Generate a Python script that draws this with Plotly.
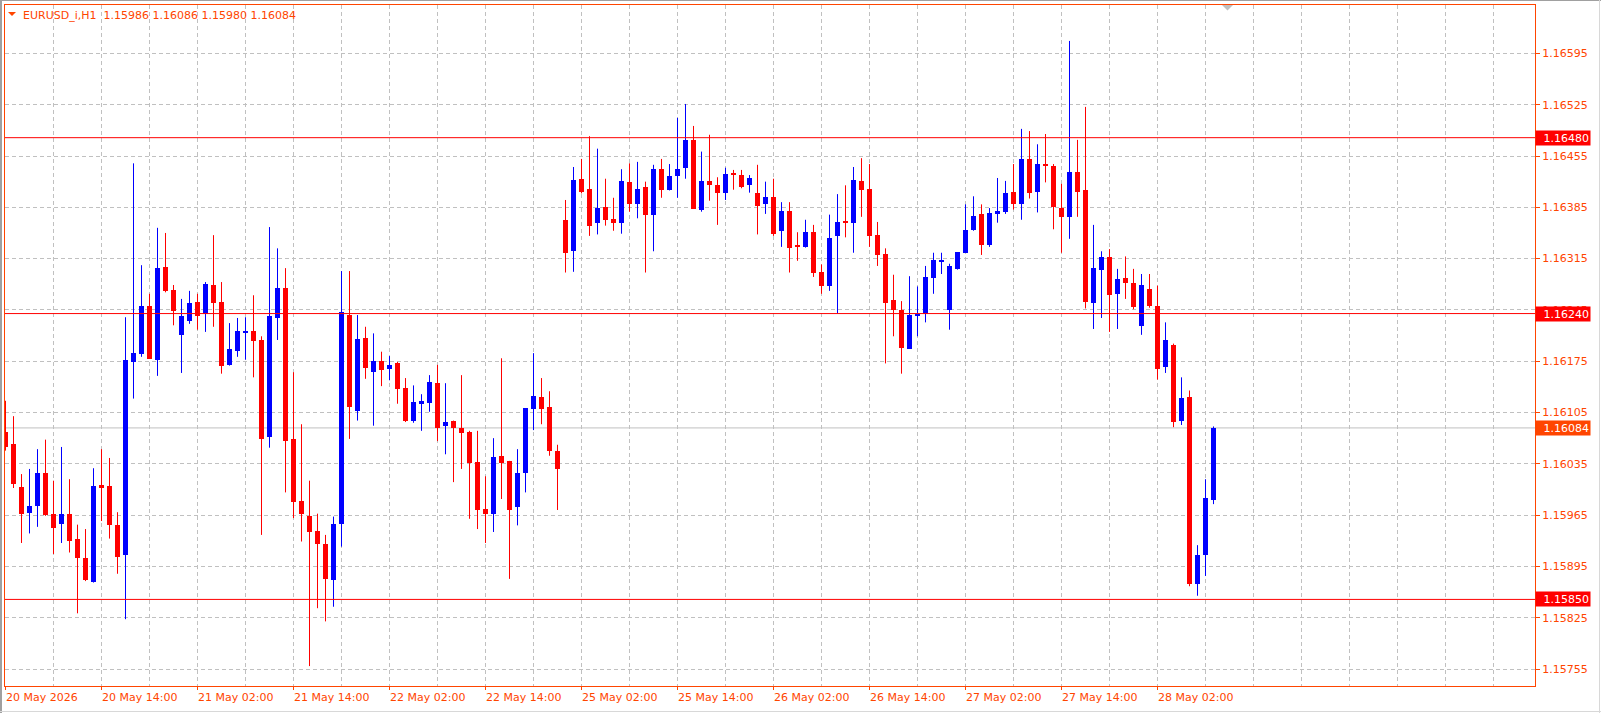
import numpy as np
import pandas as pd
import plotly.graph_objects as go

# ---------------- data ----------------
symbol = "EURUSD_i,H1"
start_time = "2026-05-20 02:00"

opens = [1.16078, 1.16062, 1.16003, 1.15968, 1.15978, 1.16022, 1.15967, 1.15953, 1.15967, 1.15932,
         1.15906, 1.15874, 1.16006, 1.16005, 1.15952, 1.15911, 1.16174, 1.16185, 1.16250, 1.16177,
         1.16304, 1.16272, 1.16211, 1.16230, 1.16256, 1.16240, 1.16279, 1.16256, 1.16170, 1.16189,
         1.16214, 1.16216, 1.16204, 1.16071, 1.16234, 1.16275, 1.16069, 1.15984, 1.15964, 1.15943,
         1.15925, 1.15877, 1.15953, 1.16238, 1.16107, 1.16207, 1.16160, 1.16175, 1.16165, 1.16172,
         1.16138, 1.16093, 1.16117, 1.16118, 1.16145, 1.16087, 1.16094, 1.16084, 1.16079, 1.16037,
         1.15973, 1.15966, 1.16046, 1.16039, 1.15976, 1.16022, 1.16110, 1.16126, 1.16112, 1.16052,
         1.16368, 1.16325, 1.16424, 1.16410, 1.16363, 1.16385, 1.16369, 1.16364, 1.16420, 1.16389,
         1.16413, 1.16374, 1.16437, 1.16408, 1.16428, 1.16439, 1.16477, 1.16382, 1.16421, 1.16416,
         1.16405, 1.16432, 1.16429, 1.16415, 1.16405, 1.16389, 1.16399, 1.16352, 1.16380, 1.16334,
         1.16331, 1.16351, 1.16297, 1.16278, 1.16346, 1.16366, 1.16364, 1.16421, 1.16410, 1.16347,
         1.16321, 1.16259, 1.16245, 1.16192, 1.16237, 1.16239, 1.16288, 1.16311, 1.16245, 1.16301,
         1.16323, 1.16354, 1.16376, 1.16333, 1.16376, 1.16378, 1.16406, 1.16390, 1.16451, 1.16406,
         1.16444, 1.16441, 1.16384, 1.16372, 1.16433, 1.16409, 1.16254, 1.16300, 1.16317, 1.16267,
         1.16289, 1.16282, 1.16223, 1.16274, 1.16250, 1.16167, 1.16197, 1.16094, 1.16126, 1.15871,
         1.15911, 1.15986]
highs = [1.16121, 1.16100, 1.16021, 1.16028, 1.16055, 1.16068, 1.16012, 1.16058, 1.16014, 1.15952,
         1.15946, 1.16029, 1.16055, 1.16043, 1.15969, 1.16235, 1.16445, 1.16306, 1.16267, 1.16357,
         1.16350, 1.16279, 1.16260, 1.16271, 1.16267, 1.16283, 1.16347, 1.16283, 1.16227, 1.16234,
         1.16235, 1.16265, 1.16209, 1.16358, 1.16329, 1.16302, 1.16160, 1.16089, 1.16012, 1.15967,
         1.15938, 1.15963, 1.16298, 1.16298, 1.16238, 1.16222, 1.16213, 1.16188, 1.16182, 1.16174,
         1.16152, 1.16142, 1.16130, 1.16156, 1.16170, 1.16145, 1.16094, 1.16156, 1.16080, 1.16080,
         1.16018, 1.16070, 1.16179, 1.16039, 1.16055, 1.16111, 1.16186, 1.16152, 1.16134, 1.16061,
         1.16395, 1.16440, 1.16451, 1.16482, 1.16465, 1.16424, 1.16398, 1.16437, 1.16445, 1.16447,
         1.16420, 1.16443, 1.16451, 1.16444, 1.16507, 1.16526, 1.16496, 1.16461, 1.16484, 1.16426,
         1.16439, 1.16436, 1.16436, 1.16429, 1.16443, 1.16420, 1.16424, 1.16392, 1.16392, 1.16351,
         1.16368, 1.16361, 1.16307, 1.16375, 1.16403, 1.16415, 1.16440, 1.16452, 1.16444, 1.16365,
         1.16329, 1.16293, 1.16257, 1.16291, 1.16277, 1.16305, 1.16323, 1.16323, 1.16308, 1.16324,
         1.16389, 1.16400, 1.16389, 1.16384, 1.16425, 1.16421, 1.16444, 1.16492, 1.16489, 1.16471,
         1.16485, 1.16444, 1.16417, 1.16612, 1.16477, 1.16522, 1.16361, 1.16325, 1.16328, 1.16301,
         1.16318, 1.16301, 1.16294, 1.16294, 1.16278, 1.16228, 1.16199, 1.16153, 1.16135, 1.15924,
         1.16014, 1.16086]
lows = [1.16053, 1.16002, 1.15927, 1.15940, 1.15949, 1.15964, 1.15912, 1.15927, 1.15914, 1.15831,
        1.15875, 1.15873, 1.15957, 1.15933, 1.15885, 1.15823, 1.16124, 1.16181, 1.16178, 1.16155,
        1.16269, 1.16224, 1.16159, 1.16226, 1.16218, 1.16215, 1.16222, 1.16158, 1.16169, 1.16181,
        1.16177, 1.16153, 1.15938, 1.16057, 1.16204, 1.15996, 1.15961, 1.15929, 1.15759, 1.15838,
        1.15820, 1.15840, 1.15922, 1.16069, 1.16094, 1.16151, 1.16087, 1.16141, 1.16149, 1.16117,
        1.16092, 1.16091, 1.16080, 1.16106, 1.16066, 1.16048, 1.16010, 1.16028, 1.15960, 1.15946,
        1.15927, 1.15942, 1.15987, 1.15878, 1.15951, 1.15996, 1.16081, 1.16089, 1.16046, 1.15972,
        1.16296, 1.16297, 1.16404, 1.16346, 1.16348, 1.16360, 1.16353, 1.16349, 1.16379, 1.16370,
        1.16296, 1.16325, 1.16398, 1.16408, 1.16398, 1.16424, 1.16383, 1.16379, 1.16394, 1.16361,
        1.16395, 1.16409, 1.16411, 1.16405, 1.16348, 1.16376, 1.16346, 1.16331, 1.16296, 1.16312,
        1.16330, 1.16290, 1.16267, 1.16271, 1.16240, 1.16344, 1.16323, 1.16372, 1.16331, 1.16305,
        1.16172, 1.16209, 1.16158, 1.16192, 1.16209, 1.16228, 1.16267, 1.16294, 1.16218, 1.16300,
        1.16323, 1.16353, 1.16320, 1.16331, 1.16364, 1.16376, 1.16382, 1.16368, 1.16397, 1.16378,
        1.16419, 1.16355, 1.16323, 1.16342, 1.16372, 1.16247, 1.16219, 1.16234, 1.16215, 1.16219,
        1.16260, 1.16246, 1.16211, 1.16248, 1.16150, 1.16159, 1.16085, 1.16088, 1.15868, 1.15855,
        1.15882, 1.15980]
closes = [1.16058, 1.16007, 1.15966, 1.15977, 1.16022, 1.15965, 1.15948, 1.15967, 1.15930, 1.15906,
          1.15876, 1.16005, 1.16002, 1.15952, 1.15908, 1.16177, 1.16186, 1.16250, 1.16178, 1.16302,
          1.16271, 1.16244, 1.16237, 1.16254, 1.16237, 1.16280, 1.16254, 1.16169, 1.16192, 1.16216,
          1.16216, 1.16202, 1.16069, 1.16237, 1.16275, 1.16066, 1.15983, 1.15967, 1.15942, 1.15925,
          1.15878, 1.15953, 1.16242, 1.16112, 1.16205, 1.16166, 1.16175, 1.16163, 1.16170, 1.16137,
          1.16093, 1.16119, 1.16121, 1.16147, 1.16084, 1.16092, 1.16084, 1.16077, 1.16036, 1.15972,
          1.15966, 1.16044, 1.16036, 1.15972, 1.16022, 1.16111, 1.16128, 1.16110, 1.16053, 1.16028,
          1.16323, 1.16422, 1.16406, 1.16360, 1.16384, 1.16368, 1.16364, 1.16421, 1.16390, 1.16410,
          1.16375, 1.16437, 1.16409, 1.16428, 1.16437, 1.16477, 1.16383, 1.16421, 1.16416, 1.16404,
          1.16431, 1.16430, 1.16413, 1.16425, 1.16387, 1.16399, 1.16349, 1.16380, 1.16330, 1.16331,
          1.16351, 1.16295, 1.16278, 1.16343, 1.16365, 1.16364, 1.16422, 1.16409, 1.16346, 1.16320,
          1.16255, 1.16245, 1.16193, 1.16238, 1.16240, 1.16290, 1.16313, 1.16313, 1.16305, 1.16324,
          1.16354, 1.16373, 1.16333, 1.16377, 1.16380, 1.16405, 1.16389, 1.16451, 1.16405, 1.16444,
          1.16442, 1.16386, 1.16372, 1.16433, 1.16406, 1.16256, 1.16302, 1.16317, 1.16266, 1.16287,
          1.16282, 1.16249, 1.16279, 1.16250, 1.16165, 1.16204, 1.16092, 1.16125, 1.15871, 1.15911,
          1.15988, 1.16084]

level_lines = [1.16480, 1.16240, 1.15850]
price_ticks = [1.15755, 1.15825, 1.15895, 1.15965, 1.16035, 1.16105, 1.16175,
               1.16245, 1.16315, 1.16385, 1.16455, 1.16525, 1.16595]
date_tick_times = ["2026-05-20 02:00", "2026-05-20 14:00", "2026-05-21 02:00", "2026-05-21 14:00",
                   "2026-05-22 02:00", "2026-05-22 14:00", "2026-05-25 02:00", "2026-05-25 14:00",
                   "2026-05-26 02:00", "2026-05-26 14:00", "2026-05-27 02:00", "2026-05-27 14:00",
                   "2026-05-28 02:00"]
date_tick_labels = ["20 May 2026", "20 May 14:00", "21 May 02:00", "21 May 14:00",
                    "22 May 02:00", "22 May 14:00", "25 May 02:00", "25 May 14:00",
                    "26 May 02:00", "26 May 14:00", "27 May 02:00", "27 May 14:00",
                    "28 May 02:00"]

# ---------------- style / geometry ----------------
W, H = 1601, 713
ML, MR, MT, MB = 5, 66, 5, 27
PW, PH = W - ML - MR, H - MT - MB
BAR_PX = 8
X0 = -0.0625
Y_TOP, Y_BOT = 1.1666103, 1.1573185
FONT = "DejaVu Sans"
ORANGE = "#FF4500"
BULL, BEAR = "#0000FF", "#FF0000"
GRID = "#C0C0C0"

def px(xp):
    return (xp - ML) / PW

def py(yp):
    return (H - MB - yp) / PH

o = np.array(opens); h = np.array(highs); l = np.array(lows); c = np.array(closes)
n = len(o)
times = pd.date_range(start_time, periods=24 * 14, freq="h")
times = times[times.dayofweek < 5][:n]
idx = np.arange(n)
time_pos = {t.strftime("%Y-%m-%d %H:%M"): i for i, t in enumerate(times)}

price_per_px = (Y_TOP - Y_BOT) / PH
bull = c >= o

fig = go.Figure()

# wicks
for mask, col in ((bull, BULL), (~bull, BEAR)):
    xs, ys = [], []
    for i in idx[mask]:
        xs += [i, i, None]
        ys += [l[i], h[i], None]
    fig.add_trace(go.Scatter(x=xs, y=ys, mode="lines", line=dict(color=col, width=1),
                             hoverinfo="skip", showlegend=False))

# bodies
for mask, col in ((bull, BULL), (~bull, BEAR)):
    base = np.minimum(o, c)[mask]
    hgt = np.maximum(np.abs(c - o)[mask], price_per_px)
    fig.add_trace(go.Bar(x=idx[mask], y=hgt, base=base, width=5 / BAR_PX,
                         marker=dict(color=col, line=dict(width=0)),
                         hoverinfo="skip", showlegend=False))

x_right = X0 + PW / BAR_PX

shapes = []
# level lines
for lv in level_lines:
    shapes.append(dict(type="line", xref="paper", yref="y", x0=0, x1=1, y0=lv, y1=lv,
                       line=dict(color="#FF0000", width=1), layer="above"))
# bid line
bid = closes[-1]
shapes.append(dict(type="line", xref="paper", yref="y", x0=0, x1=1, y0=bid, y1=bid,
                   line=dict(color=GRID, width=1), layer="below"))
# x tick marks
for t in date_tick_times:
    i = time_pos[t]
    shapes.append(dict(type="line", xref="x", yref="paper", x0=i, x1=i, y0=0, y1=py(H - MB + 4),
                       line=dict(color=ORANGE, width=1)))
# chart-shift marker
shapes.append(dict(type="path", xref="paper", yref="paper",
                   path=f"M {px(1222)},{py(5)} L {px(1233)},{py(5)} L {px(1227.5)},{py(10.5)} Z",
                   fillcolor=GRID, line=dict(width=0)))
# title triangle
shapes.append(dict(type="path", xref="paper", yref="paper",
                   path=f"M {px(8)},{py(12)} L {px(16)},{py(12)} L {px(12)},{py(16)} Z",
                   fillcolor=ORANGE, line=dict(width=0)))
# window border
shapes.append(dict(type="line", xref="paper", yref="paper", x0=px(0), x1=px(W), y0=py(0.5), y1=py(0.5),
                   line=dict(color="#A0A0A0", width=1)))
shapes.append(dict(type="line", xref="paper", yref="paper", x0=px(1), x1=px(1), y0=py(0), y1=py(H),
                   line=dict(color="#A0A0A0", width=2)))
shapes.append(dict(type="line", xref="paper", yref="paper", x0=px(W - 1.5), x1=px(W - 1.5), y0=py(0), y1=py(H),
                   line=dict(color="#D8D8D8", width=1)))
shapes.append(dict(type="line", xref="paper", yref="paper", x0=px(0), x1=px(W), y0=py(H - 1.5), y1=py(H - 1.5),
                   line=dict(color="#D8D8D8", width=1)))

annotations = []
# title
annotations.append(dict(xref="paper", yref="paper", x=px(21), y=py(7), xanchor="left", yanchor="top",
                        text=f"{symbol}  {opens[-1]:.5f} {highs[-1]:.5f} {lows[-1]:.5f} {closes[-1]:.5f}",
                        showarrow=False, font=dict(family=FONT, size=11, color=ORANGE)))
# date labels
for t, lab in zip(date_tick_times, date_tick_labels):
    annotations.append(dict(xref="x", yref="paper", x=time_pos[t], y=0, xanchor="left", yanchor="top",
                            xshift=-2, yshift=-3, text=lab, showarrow=False,
                            font=dict(family=FONT, size=11, color=ORANGE)))
# price boxes
for lv, bg in [(v, "#FF0000") for v in level_lines] + [(bid, ORANGE)]:
    annotations.append(dict(xref="paper", yref="y", x=1, y=lv, xanchor="left", yanchor="middle",
                            text=f"{lv:.5f}", showarrow=False, bgcolor=bg, borderpad=1,
                            width=52, height=12, align="right",
                            font=dict(family=FONT, size=11, color="white")))

fig.update_layout(
    width=W, height=H, margin=dict(l=ML, r=MR, t=MT, b=MB, pad=0),
    paper_bgcolor="white", plot_bgcolor="white",
    barmode="overlay", bargap=0, hovermode=False, showlegend=False,
    shapes=shapes, annotations=annotations,
    xaxis=dict(range=[X0, x_right], tick0=0, dtick=6, showticklabels=False, ticks="",
               showgrid=True, gridcolor=GRID, gridwidth=1, griddash="4px,3px",
               showline=True, linecolor=ORANGE, linewidth=1, mirror=True, zeroline=False,
               rangeslider=dict(visible=False), fixedrange=True),
    yaxis=dict(range=[Y_BOT, Y_TOP], side="right", tickvals=price_ticks,
               ticktext=[f"{v:.5f}" for v in price_ticks], ticks="outside", ticklen=4,
               tickcolor=ORANGE, tickfont=dict(family=FONT, size=11, color=ORANGE),
               showgrid=True, gridcolor=GRID, gridwidth=1, griddash="4px,3px",
               showline=True, linecolor=ORANGE, linewidth=1, mirror=True, zeroline=False,
               fixedrange=True),
)

fig.write_html("out.html", config={"displayModeBar": False})
